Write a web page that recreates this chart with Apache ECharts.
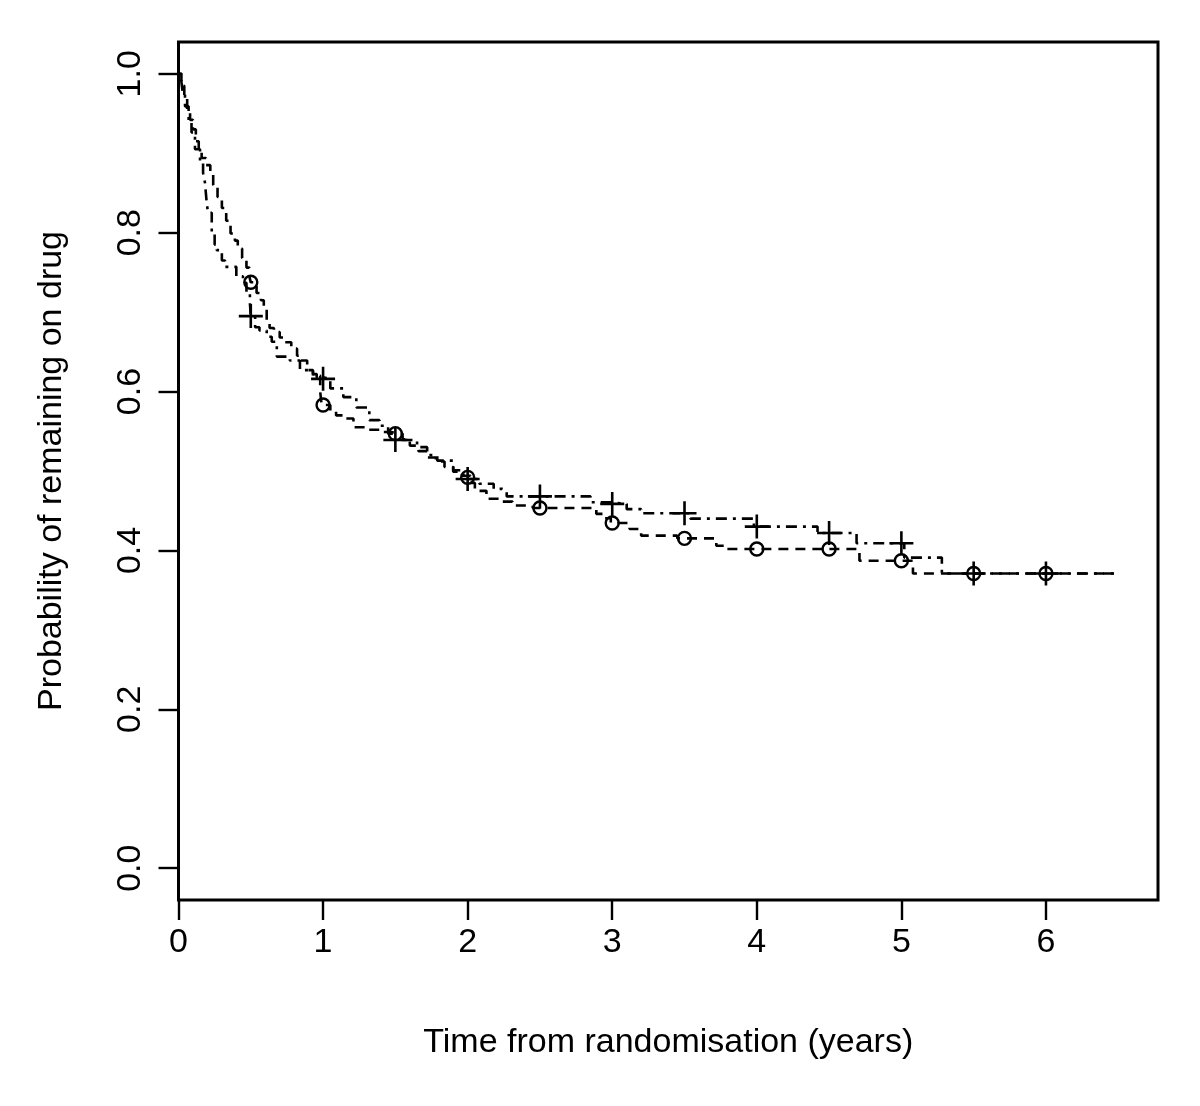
<!DOCTYPE html>
<html>
<head>
<meta charset="utf-8">
<script src="https://cdn.jsdelivr.net/npm/echarts@6/dist/echarts.min.js"></script>
<style>
  html, body { margin: 0; padding: 0; background: #fff; }
  #chart { width: 1200px; height: 1106px; }
</style>
</head>
<body>
<div id="chart"></div>
<script>
// Step curve: dashed line, circle markers  [time, survival]
const curveA = [
  [0, 1.0], [0.02, 0.985], [0.04, 0.97], [0.06, 0.955], [0.08, 0.942], [0.10, 0.93],
  [0.12, 0.915], [0.14, 0.905], [0.16, 0.894], [0.19, 0.885], [0.22, 0.875], [0.24, 0.86],
  [0.27, 0.845], [0.30, 0.831], [0.33, 0.815], [0.36, 0.799], [0.39, 0.79], [0.41, 0.78],
  [0.44, 0.768], [0.47, 0.756], [0.49, 0.745], [0.50, 0.7375], [0.54, 0.724], [0.57, 0.715],
  [0.59, 0.707], [0.61, 0.688], [0.63, 0.68], [0.66, 0.675], [0.70, 0.668], [0.73, 0.662],
  [0.78, 0.654], [0.82, 0.645], [0.84, 0.639], [0.89, 0.627], [0.93, 0.62], [0.98, 0.60],
  [0.99, 0.583], [1.05, 0.575], [1.09, 0.57], [1.16, 0.566], [1.21, 0.555], [1.30, 0.552],
  [1.40, 0.549], [1.47, 0.547], [1.55, 0.54], [1.60, 0.532], [1.66, 0.525], [1.72, 0.517],
  [1.78, 0.512], [1.84, 0.505], [1.90, 0.499], [1.96, 0.494], [2.02, 0.485], [2.05, 0.475],
  [2.13, 0.465], [2.22, 0.4615], [2.31, 0.4565], [2.45, 0.4535], [2.89, 0.446], [2.95, 0.4405],
  [2.99, 0.4346], [3.12, 0.427], [3.20, 0.4186], [3.45, 0.4152], [3.72, 0.406], [3.78, 0.4018],
  [4.71, 0.387], [5.08, 0.371], [6.47, 0.371]
];
// Step curve: dot-dash line, plus markers  [time, survival]
const curveB = [
  [0, 1.0], [0.02, 0.99], [0.03, 0.975], [0.045, 0.959], [0.07, 0.94], [0.09, 0.926],
  [0.114, 0.905], [0.149, 0.888], [0.17, 0.875], [0.183, 0.863], [0.195, 0.838], [0.204, 0.825],
  [0.23, 0.80], [0.25, 0.785], [0.264, 0.778], [0.30, 0.765], [0.322, 0.757], [0.40, 0.745],
  [0.446, 0.737], [0.47, 0.725], [0.494, 0.711], [0.50, 0.695], [0.53, 0.681], [0.56, 0.677],
  [0.61, 0.669], [0.645, 0.6626], [0.68, 0.644], [0.77, 0.639], [0.84, 0.627], [0.93, 0.622],
  [0.956, 0.618], [1.0, 0.616], [1.05, 0.604], [1.14, 0.593], [1.23, 0.58], [1.32, 0.564],
  [1.39, 0.557], [1.45, 0.547], [1.49, 0.539], [1.65, 0.53], [1.72, 0.52], [1.79, 0.513],
  [1.90, 0.501], [1.97, 0.494], [2.0, 0.49], [2.08, 0.484], [2.18, 0.4775], [2.24, 0.475],
  [2.27, 0.468], [2.85, 0.4606], [2.99, 0.4586], [3.10, 0.452], [3.20, 0.4468], [3.54, 0.44],
  [3.98, 0.43], [4.42, 0.422], [4.69, 0.409], [5.02, 0.391], [5.28, 0.371], [6.47, 0.371]
];
const markerTimes = [0.5, 1, 1.5, 2, 2.5, 3, 3.5, 4, 4.5, 5, 5.5, 6];
const circleValues = [0.7375, 0.583, 0.547, 0.492, 0.4535, 0.4346, 0.4152, 0.4018, 0.4018, 0.387, 0.371, 0.371];
const plusValues = [0.695, 0.616, 0.539, 0.490, 0.468, 0.4586, 0.4468, 0.430, 0.422, 0.409, 0.371, 0.371];
const xTicks = [0, 1, 2, 3, 4, 5, 6];
const yTicks = [0, 0.2, 0.4, 0.6, 0.8, 1.0];
const xTitle = 'Time from randomisation (years)';
const yTitle = 'Probability of remaining on drug';

const FONT = '"Liberation Sans", Arial, Helvetica, sans-serif';
const chart = echarts.init(document.getElementById('chart'), null, { renderer: 'canvas' });

chart.setOption({
  backgroundColor: '#ffffff',
  animation: false,
  grid: {
    left: 178.5, right: 42, top: 42, bottom: 206,
    show: true, borderColor: '#000', borderWidth: 3, backgroundColor: 'transparent'
  },
  xAxis: {
    type: 'value', min: 0, max: 6.775,
    splitLine: { show: false },
    axisLine: { show: false, onZero: false },
    axisTick: { show: true, length: 20, lineStyle: { color: '#000', width: 2.4 }, customValues: xTicks },
    axisLabel: { show: true, margin: 26, fontSize: 34, color: '#000', fontFamily: FONT, customValues: xTicks },
    name: xTitle, nameLocation: 'middle', nameGap: 126,
    nameTextStyle: { fontSize: 34, color: '#000', fontFamily: FONT }
  },
  yAxis: {
    type: 'value', min: -0.04, max: 1.04,
    splitLine: { show: false },
    axisLine: { show: false, onZero: false },
    axisTick: { show: true, length: 20, lineStyle: { color: '#000', width: 2.4 }, customValues: yTicks },
    axisLabel: { show: true, rotate: 90, margin: 31, fontSize: 34, color: '#000', fontFamily: FONT,
      customValues: yTicks, formatter: v => v.toFixed(1) },
    name: yTitle, nameLocation: 'middle', nameGap: 110, nameRotate: 90,
    nameTextStyle: { fontSize: 34, color: '#000', fontFamily: FONT }
  },
  series: [
    {
      type: 'line', data: curveA, step: 'end', showSymbol: false, symbol: 'none',
      lineStyle: { color: '#000', width: 2.6, type: [10, 7] }
    },
    {
      type: 'line', data: curveB, step: 'end', showSymbol: false, symbol: 'none',
      lineStyle: { color: '#000', width: 2.6, type: [3, 6, 11, 6] }
    },
    {
      type: 'scatter', data: markerTimes.map((t, i) => [t, plusValues[i]]),
      symbol: 'path://M10,0L10,20M0,10L20,10', symbolSize: 24,
      itemStyle: { color: 'none', borderColor: '#000', borderWidth: 2.6, opacity: 1 }
    },
    {
      type: 'scatter', data: markerTimes.map((t, i) => [t, circleValues[i]]),
      symbol: 'circle', symbolSize: 13,
      itemStyle: { color: 'rgba(0,0,0,0)', borderColor: '#000', borderWidth: 2.4, opacity: 1 }
    }
  ]
});
</script>
</body>
</html>
